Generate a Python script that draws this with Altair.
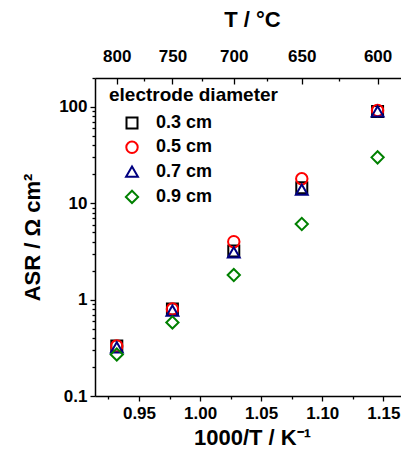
import altair as alt
import pandas as pd

# ---- data ----
temps_C = [800, 750, 700, 650, 600]
series = ["0.3 cm", "0.5 cm", "0.7 cm", "0.9 cm"]
asr_03 = [0.33, 0.80, 3.2, 14.5, 90]
asr_05 = [0.33, 0.80, 4.0, 18.0, 92]
asr_07 = [0.32, 0.77, 3.1, 13.9, 90]
asr_09 = [0.27, 0.58, 1.8, 6.1, 30]
colors = ["#000000", "#ff0000", "#000080", "#008000"]
shapes = ["square", "circle", "triangle-up", "diamond"]
sizes = [121, 150, 190, 215]

x_major = [0.95, 1.00, 1.05, 1.10, 1.15]
x_minor = [0.925, 0.975, 1.025, 1.075, 1.125]
t_minor = [775, 725, 675, 625]
y_major = [0.1, 1, 10, 100]
y_minor = [0.2, 0.3, 0.4, 0.5, 0.6, 0.7, 0.8, 0.9,
           2, 3, 4, 5, 6, 7, 8, 9,
           20, 30, 40, 50, 60, 70, 80, 90, 200]

x_dom = [0.914, 1.171]
y_dom = [0.1, 200]
W, WFULL, H = 306, 314, 318
FONT = "Liberation Sans"


def inv(t):
    return 1000.0 / (t + 273.15)


rows = []
for name, vals in zip(series, [asr_03, asr_05, asr_07, asr_09]):
    for t, v in zip(temps_C, vals):
        rows.append({"x": inv(t), "asr": v, "d": name})
df = pd.DataFrame(rows)

t_major_x = [inv(t) for t in temps_C]
t_minor_x = [inv(t) for t in t_minor]

xs = alt.Scale(domain=x_dom, range=[0, WFULL], nice=False, zero=False)
ys = alt.Scale(type="log", domain=y_dom, nice=False)

base = alt.Chart(df)

lab = dict(labelFont=FONT, labelFontWeight="bold", labelFontSize=17, labelColor="black",
           titleFont=FONT, titleFontWeight="bold", titleFontSize=22, titleColor="black",
           tickColor="black", tickWidth=1.3, domain=True, domainColor="black",
           domainWidth=1.5, grid=False)

leg = alt.Legend(title="electrode diameter", orient="none", legendX=14, legendY=8)

points = base.mark_point(filled=False, strokeWidth=2, opacity=1).encode(
    x=alt.X("x:Q", scale=xs,
            axis=alt.Axis(orient="bottom", values=x_major, format=".2f", tickSize=5,
                          labelPadding=4, title="1000/T / K⁻¹", titlePadding=6, **lab)),
    y=alt.Y("asr:Q", scale=ys,
            axis=alt.Axis(orient="left", values=y_major, labelExpr="format(datum.value, '~g')",
                          tickSize=5, labelPadding=3, title="ASR / Ω cm²", titlePadding=14, **lab)),
    color=alt.Color("d:N", scale=alt.Scale(domain=series, range=colors), legend=leg),
    shape=alt.Shape("d:N", scale=alt.Scale(domain=series, range=shapes), legend=leg),
    size=alt.Size("d:N", scale=alt.Scale(domain=series, range=sizes), legend=leg),
)

nolab = dict(labels=False, title=None, domain=False, grid=False, tickColor="black", tickWidth=1.3)

minor = base.mark_point(opacity=0).encode(
    x=alt.X("x:Q", scale=xs, axis=alt.Axis(orient="bottom", values=x_minor, tickSize=3, **nolab)),
    y=alt.Y("asr:Q", scale=ys, axis=alt.Axis(orient="left", values=y_minor, tickSize=3, **nolab)),
)

top = base.mark_point(opacity=0).encode(
    x=alt.X("x:Q", scale=xs,
            axis=alt.Axis(orient="top", values=t_major_x, ticks=False, tickSize=0,
                          labelExpr="format(1000/datum.value - 273.15, '.0f')",
                          labelPadding=13, title="T / °C", titlePadding=16, **lab)),
    y=alt.Y("asr:Q", scale=ys, axis=None),
)

top_in_major = base.mark_point(opacity=0).encode(
    x=alt.X("x:Q", scale=xs,
            axis=alt.Axis(orient="bottom", offset=-H, values=t_major_x, tickSize=6, **nolab)),
    y=alt.Y("asr:Q", scale=ys, axis=None),
)

top_in_minor = base.mark_point(opacity=0).encode(
    x=alt.X("x:Q", scale=xs,
            axis=alt.Axis(orient="bottom", offset=-H, values=t_minor_x, tickSize=3, **nolab)),
    y=alt.Y("asr:Q", scale=ys, axis=None),
)

chart = alt.layer(points, minor, top, top_in_major, top_in_minor).resolve_scale(
    x="independent", y="independent"
).properties(
    width=W, height=H,
    autosize=alt.AutoSizeParams(type="none"),
    padding={"left": 87, "top": 70, "right": 0, "bottom": 53},
).configure_view(
    strokeWidth=0
).configure_legend(
    titleFont=FONT, titleFontWeight="bold", titleFontSize=19, titleColor="black",
    labelFont=FONT, labelFontWeight="bold", labelFontSize=18, labelColor="black",
    symbolStrokeWidth=2, symbolFillColor="transparent", padding=0,
    titlePadding=9, rowPadding=4.3, labelOffset=15, symbolOffset=14, titleLimit=400,
)

chart.save("out.html", embed_options={"renderer": "svg", "actions": False})
